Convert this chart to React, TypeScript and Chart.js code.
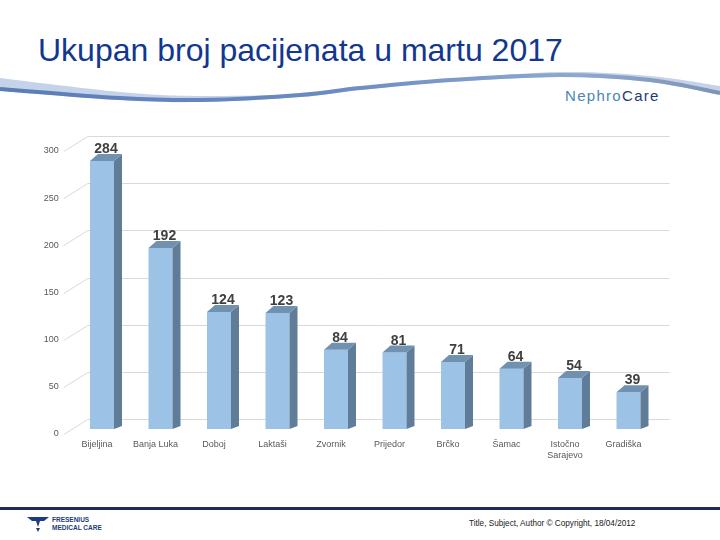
import React, { useEffect, useRef } from "react";
import { Chart, registerables } from "chart.js";

Chart.register(...registerables);

const title = "Ukupan broj pacijenata u martu 2017";
const categories: (string | string[])[] = [
  "Bijeljina",
  "Banja Luka",
  "Doboj",
  "Laktaši",
  "Zvornik",
  "Prijedor",
  "Brčko",
  "Šamac",
  ["Istočno", "Sarajevo"],
  "Gradiška",
];
const values = [284, 192, 124, 123, 84, 81, 71, 64, 54, 39];
const yMin = 0;
const yMax = 300;
const yStep = 50;

const FRONT = "#9cc3e6";
const SIDE = "#5f7c98";
const TOP = "#7191b0";
const DX = 8;
const DY = 7;

// decorative swoosh outline (top and bottom edges)
const swooshTop: [number, number][] = [
  [0, 78], [120, 92], [200, 96], [300, 94], [360, 87], [450, 79], [560, 72], [650, 76], [720, 86],
];
const swooshBottom: [number, number][] = [
  [0, 91], [120, 100], [200, 102], [300, 97], [360, 90], [450, 82], [560, 77], [650, 82], [720, 95],
];

function smoothPath(pts: [number, number][], move = true) {
  let d = move ? `M${pts[0][0]},${pts[0][1]}` : `L${pts[0][0]},${pts[0][1]}`;
  for (let i = 0; i < pts.length - 1; i++) {
    const p0 = pts[i - 1] || pts[i];
    const p1 = pts[i];
    const p2 = pts[i + 1];
    const p3 = pts[i + 2] || p2;
    const c1x = p1[0] + (p2[0] - p0[0]) / 6;
    const c1y = p1[1] + (p2[1] - p0[1]) / 6;
    const c2x = p2[0] - (p3[0] - p1[0]) / 6;
    const c2y = p2[1] - (p3[1] - p1[1]) / 6;
    d += ` C${c1x},${c1y} ${c2x},${c2y} ${p2[0]},${p2[1]}`;
  }
  return d;
}

const wallPlugin = {
  id: "wall3d",
  beforeDatasetsDraw(chart: any) {
    const { ctx, chartArea, scales } = chart;
    const y = scales.y;
    ctx.save();
    ctx.strokeStyle = "#d9d9d9";
    ctx.lineWidth = 1;
    for (let v = yMin; v <= yMax; v += yStep) {
      const py = Math.round(y.getPixelForValue(v)) + 0.5;
      ctx.beginPath();
      ctx.moveTo(chartArea.left - 9, py + 5);
      ctx.lineTo(chartArea.left + 15, py - 10);
      ctx.lineTo(chartArea.right + 12, py - 10);
      ctx.stroke();
    }
    ctx.restore();
  },
  afterDatasetsDraw(chart: any) {
    const { ctx } = chart;
    const meta = chart.getDatasetMeta(0);
    ctx.save();
    meta.data.forEach((bar: any, i: number) => {
      const { x, y, base, width } = bar.getProps(["x", "y", "base", "width"], true);
      const l = x - width / 2;
      const r = x + width / 2;
      ctx.fillStyle = SIDE;
      ctx.beginPath();
      ctx.moveTo(r, y);
      ctx.lineTo(r + DX, y - DY);
      ctx.lineTo(r + DX, base - 3);
      ctx.lineTo(r, base);
      ctx.closePath();
      ctx.fill();
      ctx.fillStyle = TOP;
      ctx.beginPath();
      ctx.moveTo(l, y);
      ctx.lineTo(l + DX, y - DY);
      ctx.lineTo(r + DX, y - DY);
      ctx.lineTo(r, y);
      ctx.closePath();
      ctx.fill();
      ctx.fillStyle = "#404040";
      ctx.font = "bold 14px 'Liberation Sans', Arial, sans-serif";
      ctx.textAlign = "center";
      ctx.textBaseline = "alphabetic";
      ctx.fillText(String(values[i]), x + 4, y - 8);
    });
    ctx.restore();
  },
};

function ChartCanvas() {
  const ref = useRef<HTMLCanvasElement>(null);
  useEffect(() => {
    if (!ref.current) return;
    const chart = new Chart(ref.current, {
      type: "bar",
      data: {
        labels: categories as any,
        datasets: [
          {
            data: values,
            backgroundColor: FRONT,
            borderWidth: 0,
            categoryPercentage: 1,
            barPercentage: 0.41,
          },
        ],
      },
      options: {
        animation: false,
        responsive: false,
        devicePixelRatio: 1,
        layout: { padding: { top: 146, left: 0, right: 62.25, bottom: 71 } },
        plugins: { legend: { display: false }, tooltip: { enabled: false } },
        scales: {
          x: {
            grid: { display: false, drawTicks: false },
            border: { display: false },
            ticks: {
              color: "#595959",
              font: { family: "'Liberation Sans', Arial, sans-serif", size: 9 },
              padding: 10,
              labelOffset: -5,
              maxRotation: 0,
              autoSkip: false,
            },
            afterFit: (s: any) => {
              s.height = 40;
            },
          },
          y: {
            min: yMin,
            max: yMax,
            grid: { display: false, drawTicks: false },
            border: { display: false },
            ticks: {
              stepSize: yStep,
              color: "#595959",
              font: { family: "'Liberation Sans', Arial, sans-serif", size: 9 },
              padding: 14,
              labelOffset: 5,
            },
            afterFit: (s: any) => {
              s.width = 72.75;
            },
          },
        },
      },
      plugins: [wallPlugin],
    });
    return () => chart.destroy();
  }, []);
  return <canvas ref={ref} width={720} height={540} style={{ position: "absolute", left: 0, top: 0 }} />;
}

export default function App() {
  const bandPath =
    smoothPath(swooshTop) + " " + smoothPath([...swooshBottom].reverse(), false) + " Z";
  const lowerLine = smoothPath(swooshBottom.map(([x, y]) => [x, y - 2] as [number, number]));
  return (
    <div
      style={{
        position: "absolute",
        left: 0,
        top: 0,
        width: 720,
        height: 540,
        background: "#fff",
        overflow: "hidden",
        fontFamily: "'Liberation Sans', Arial, sans-serif",
      }}
    >
      <svg width={720} height={540} style={{ position: "absolute", left: 0, top: 0 }}>
        <defs>
          <linearGradient id="sw" x1="0" y1="0" x2="1" y2="0">
            <stop offset="0" stopColor="#5b7db5" />
            <stop offset="0.45" stopColor="#6a8ac2" />
            <stop offset="0.8" stopColor="#8ea8d0" />
            <stop offset="1" stopColor="#7f93b4" />
          </linearGradient>
        </defs>
        <path d={bandPath} fill="#c4d2ea" />
        <path d={lowerLine} stroke="url(#sw)" strokeWidth={4} fill="none" />
        <rect x={0} y={507} width={720} height={3} fill="#1c2b57" />
        <path d="M27,517 L49,517 L44,521 L40,521 L38,527 L36,521 L32,521 Z" fill="#1c3c82" />
        <path d="M36,528 L40,528 L38,532 Z" fill="#1c3c82" />
      </svg>
      <div
        style={{
          position: "absolute",
          left: 38,
          top: 31,
          fontSize: 32,
          lineHeight: "38px",
          color: "#12378f",
          whiteSpace: "nowrap",
        }}
      >
        {title}
      </div>
      <div
        style={{
          position: "absolute",
          left: 565,
          top: 87,
          fontSize: 15,
          lineHeight: "18px",
          letterSpacing: 1.3,
          whiteSpace: "nowrap",
        }}
      >
        <span style={{ color: "#4b86b2" }}>Nephro</span>
        <span style={{ color: "#1c3a78" }}>Care</span>
      </div>
      <div
        style={{
          position: "absolute",
          left: 52,
          top: 516,
          fontSize: 6.5,
          lineHeight: "8px",
          fontWeight: "bold",
          color: "#1c3c82",
          whiteSpace: "nowrap",
        }}
      >
        FRESENIUS
        <br />
        MEDICAL CARE
      </div>
      <div
        style={{
          position: "absolute",
          left: 469,
          top: 519,
          fontSize: 8.2,
          lineHeight: "10px",
          color: "#222",
          whiteSpace: "nowrap",
        }}
      >
        Title, Subject, Author © Copyright, 18/04/2012
      </div>
      <ChartCanvas />
    </div>
  );
}
